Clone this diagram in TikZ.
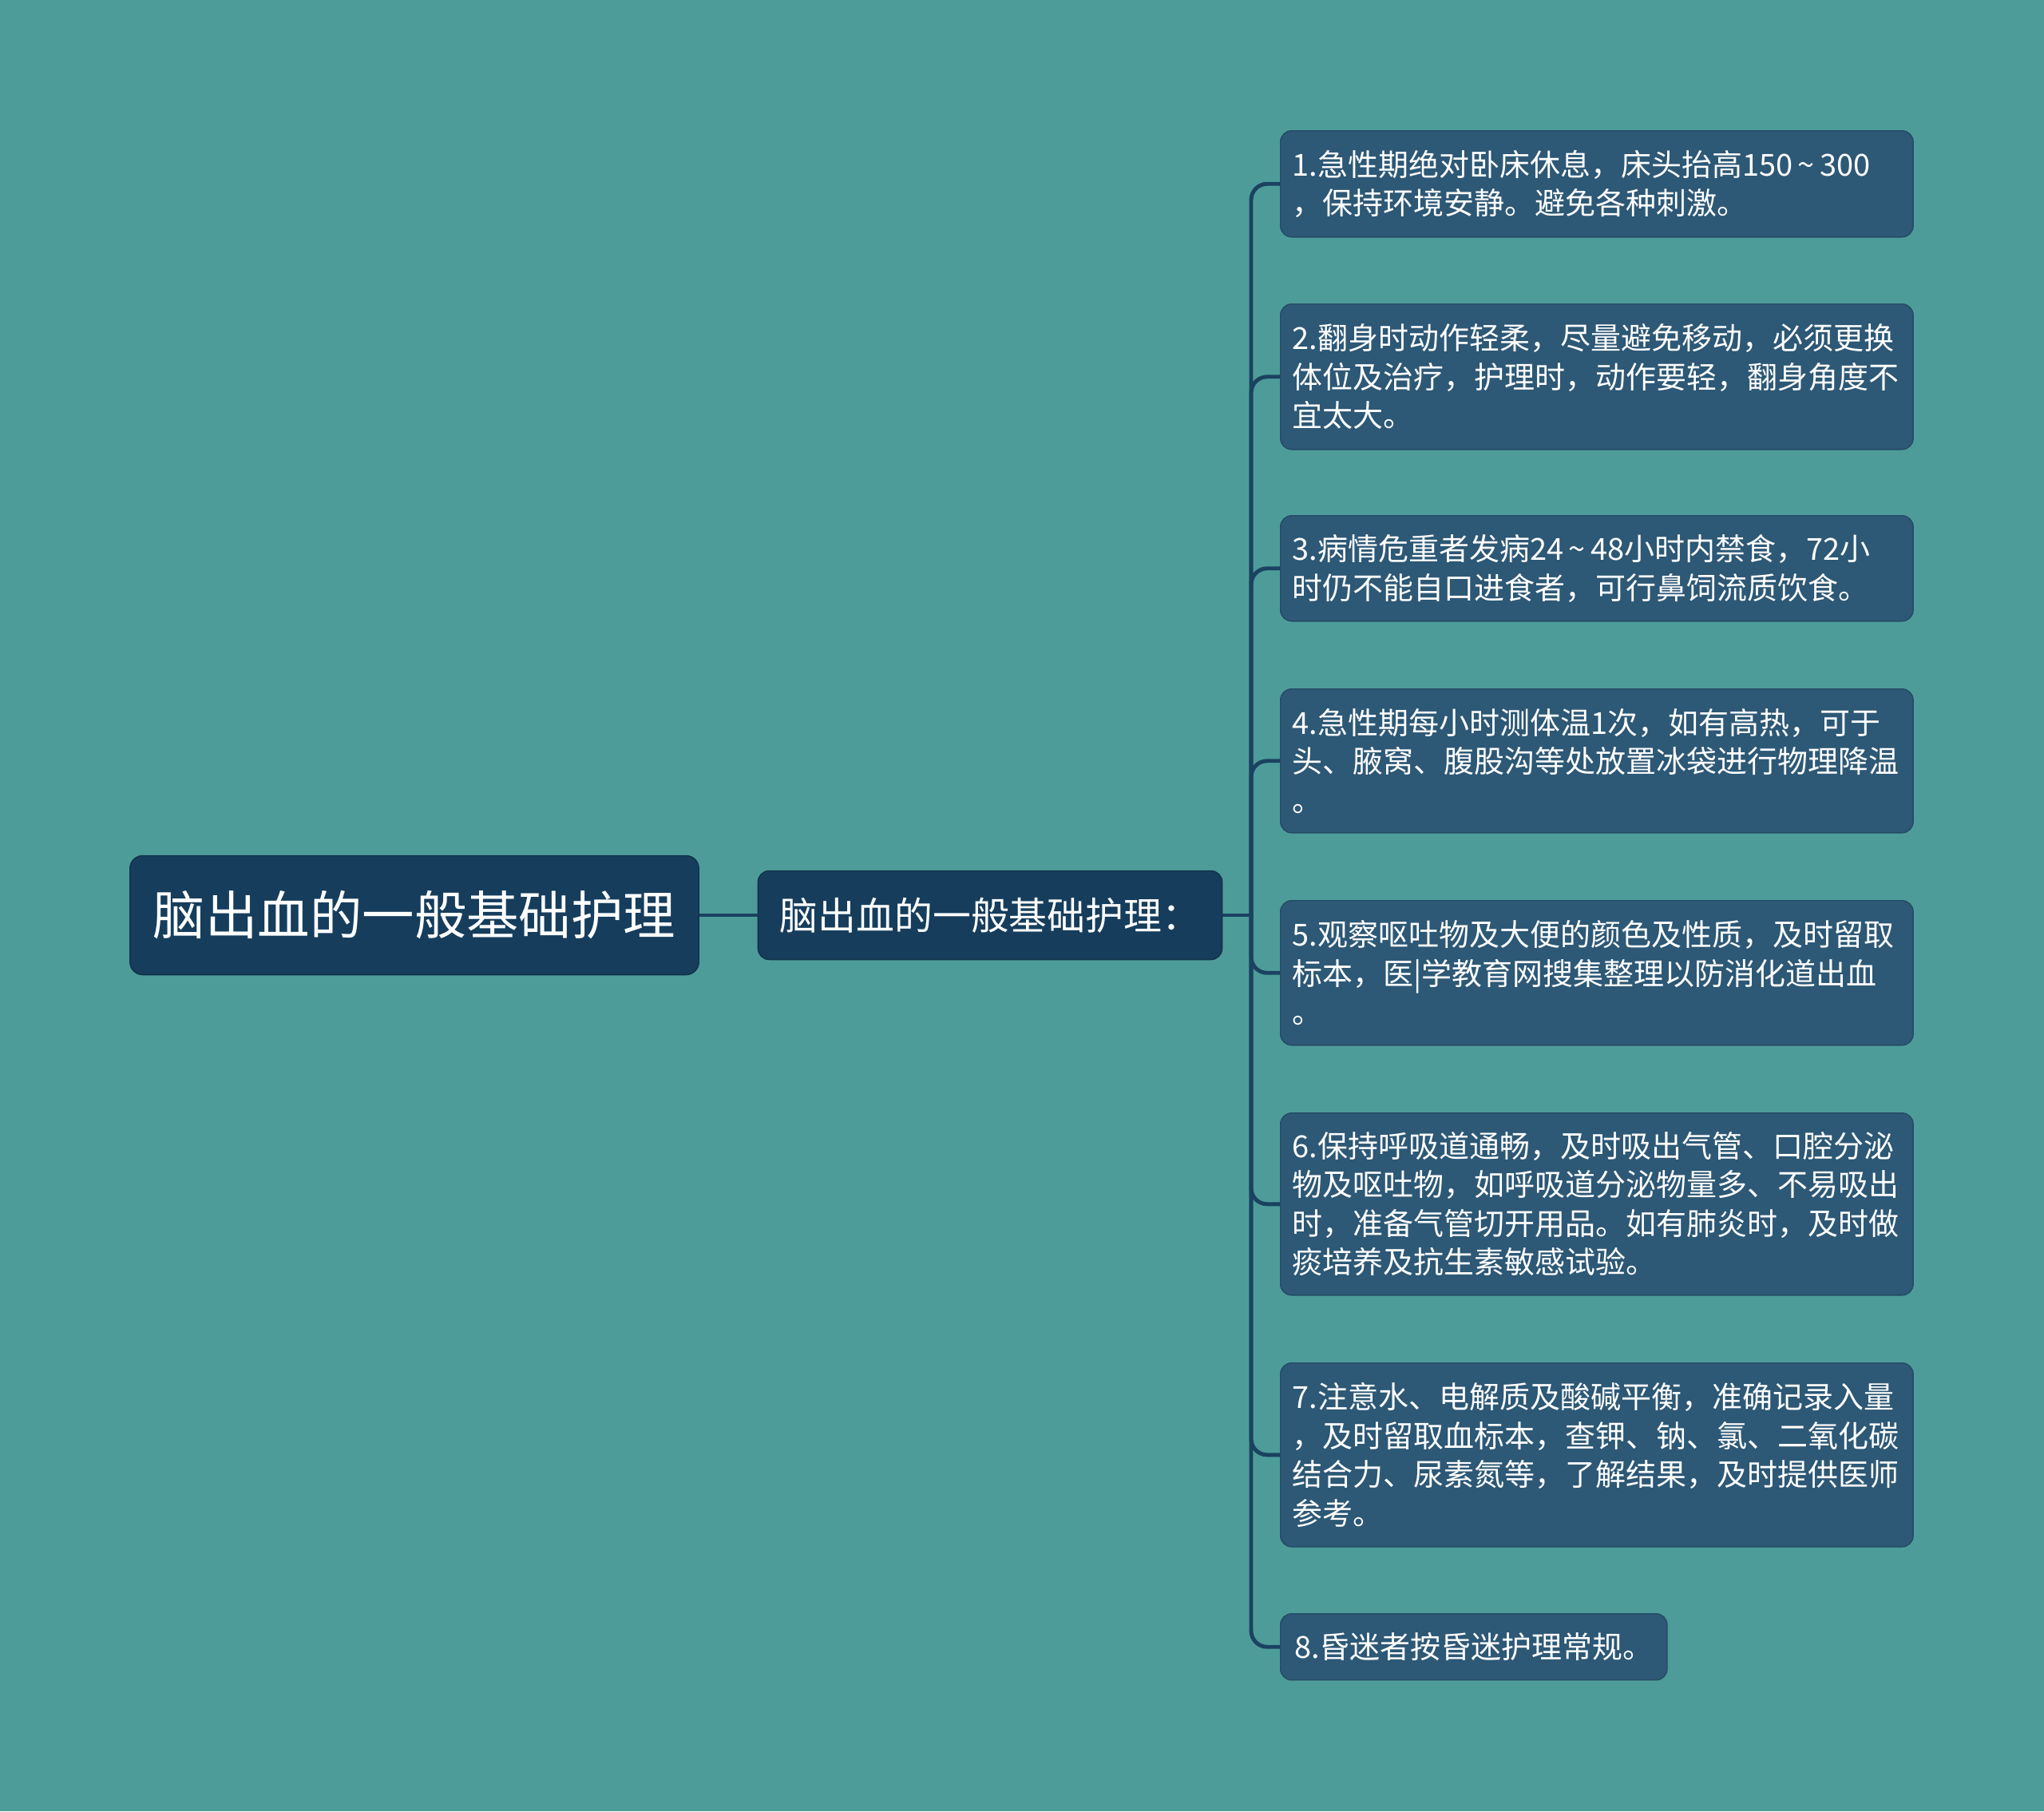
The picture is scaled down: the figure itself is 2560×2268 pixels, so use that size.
\documentclass[tikz,border=0pt]{standalone}
\usepackage{fontspec}
\setmainfont{Noto Sans CJK SC}
\usetikzlibrary{positioning}
\definecolor{bgteal}{HTML}{4D9C9A}
\definecolor{rootblue}{HTML}{163D5C}
\definecolor{leafblue}{HTML}{2D5876}
\definecolor{linkblue}{HTML}{1B4260}
\newcommand{\rng}{\,\textasciitilde\,}

\begin{document}
\begin{tikzpicture}[x=0.01cm, y=-0.01cm,
	rootbox/.style={fill=rootblue, draw=rootblue!80!black, rounded corners=0.16cm, text=white, inner xsep=0.2cm, minimum width=7.12cm, minimum height=1.49cm, font=\fontsize{18.6}{22}\selectfont},
	subbox/.style={fill=rootblue, draw=rootblue!80!black, rounded corners=0.14cm, text=white, inner xsep=0.15cm, minimum width=5.81cm, minimum height=1.11cm, font=\fontsize{13.6}{16}\selectfont},
	leafbox/.style={fill=leafblue, draw=leafblue!85!black, rounded corners=0.14cm, text=white, anchor=north west, align=left, inner xsep=0.15cm, font=\fontsize{10.8}{13.8}\selectfont},
	link/.style={draw=linkblue, line width=1.4pt, rounded corners=0.2cm}]
	\fill[bgteal] (0,0) rectangle (2560,2268);
	\useasboundingbox (0,0) rectangle (2560,2268);

	\node[rootbox] (root) at (519,1146) {脑出血的一般基础护理};
	\node[subbox] (sub) at (1240,1146) {脑出血的一般基础护理：};
	\coordinate (hub) at (1567,1146);

	\node[leafbox, text width=7.62cm, minimum height=1.33cm] (leaf1) at (1603,163) {1.急性期绝对卧床休息，床头抬高150\rng300\\，保持环境安静。避免各种刺激。};
	\node[leafbox, text width=7.62cm, minimum height=1.82cm] (leaf2) at (1603,380) {2.翻身时动作轻柔，尽量避免移动，必须更换\\体位及治疗，护理时，动作要轻，翻身角度不\\宜太大。};
	\node[leafbox, text width=7.62cm, minimum height=1.32cm] (leaf3) at (1603,645) {3.病情危重者发病24\rng48小时内禁食，72小\\时仍不能自口进食者，可行鼻饲流质饮食。};
	\node[leafbox, text width=7.62cm, minimum height=1.80cm] (leaf4) at (1603,862) {4.急性期每小时测体温1次，如有高热，可于\\头、腋窝、腹股沟等处放置冰袋进行物理降温\\。};
	\node[leafbox, text width=7.62cm, minimum height=1.81cm] (leaf5) at (1603,1127) {5.观察呕吐物及大便的颜色及性质，及时留取\\标本，医|学教育网搜集整理以防消化道出血\\。};
	\node[leafbox, text width=7.62cm, minimum height=2.28cm] (leaf6) at (1603,1393) {6.保持呼吸道通畅，及时吸出气管、口腔分泌\\物及呕吐物，如呼吸道分泌物量多、不易吸出\\时，准备气管切开用品。如有肺炎时，及时做\\痰培养及抗生素敏感试验。};
	\node[leafbox, text width=7.62cm, minimum height=2.30cm] (leaf7) at (1603,1706) {7.注意水、电解质及酸碱平衡，准确记录入量\\，及时留取血标本，查钾、钠、氯、二氧化碳\\结合力、尿素氮等，了解结果，及时提供医师\\参考。};
	\node[leafbox, minimum width=4.84cm, minimum height=0.83cm] (leaf8) at (1603,2020) {8.昏迷者按昏迷护理常规。};

	\draw[link] (root) -- (sub);
	\draw[link] (sub) -- (hub);
	\foreach \i in {1,...,8}
		\draw[link] (hub) |- (leaf\i.west);
\end{tikzpicture}
\end{document}
